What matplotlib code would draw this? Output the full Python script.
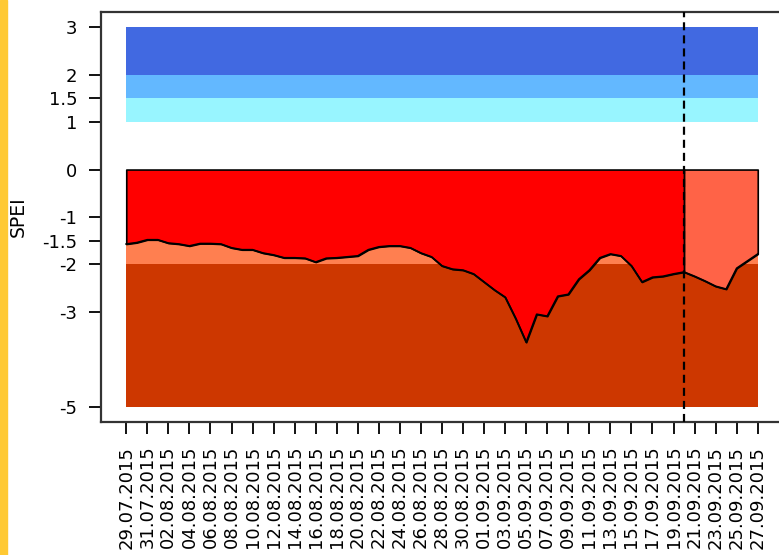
import numpy as np
import pandas as pd
import matplotlib
matplotlib.use("Agg")
import matplotlib.pyplot as plt
import matplotlib.dates as mdates
from matplotlib.patches import Rectangle

plt.rcParams['font.family'] = ['DejaVu Sans']
plt.rcParams['lines.scale_dashes'] = False

# ---- data ----
dates = pd.date_range("2015-07-29", "2015-09-27", freq="D")
spei = [-1.57, -1.54, -1.48, -1.48, -1.55, -1.57, -1.61, -1.56, -1.56, -1.57,
        -1.65, -1.69, -1.69, -1.76, -1.80, -1.86, -1.86, -1.87, -1.95, -1.87,
        -1.86, -1.84, -1.82, -1.69, -1.63, -1.61, -1.61, -1.65, -1.76, -1.84,
        -2.03, -2.10, -2.12, -2.20, -2.37, -2.54, -2.69, -3.14, -3.64, -3.05,
        -3.09, -2.67, -2.63, -2.31, -2.12, -1.86, -1.78, -1.82, -2.03, -2.37,
        -2.27, -2.25, -2.20, -2.16, -2.25, -2.35, -2.46, -2.52, -2.08, -1.93,
        -1.78]
forecast_start = pd.Timestamp("2015-09-20")
wet_bands = [(1.0, 1.5, "#98F5FF"), (1.5, 2.0, "#63B8FF"), (2.0, 3.0, "#4169E1")]
dry_bands = [(-5.0, -2.0, "#CD3700"), (-2.0, -1.5, "#FF7F50"), (-1.5, -1.0, "#FF7F50")]
ytick_vals = [3, 2, 1.5, 1, 0, -1, -1.5, -2, -3, -5]
ytick_labels = ["3", "2", "1.5", "1", "0", "-1", "-1.5", "-2", "-3", "-5"]

# ---- figure ----
W, H = 779, 555
fig = plt.figure(figsize=(W / 100, H / 100), dpi=100)
fig.patches.append(Rectangle((0, 0), 7 / W, 1, transform=fig.transFigure,
                             color="#FFC933", zorder=0))
ax = fig.add_axes([101 / W, (H - 422) / H, (783 - 101) / W, (422 - 12) / H])

x = mdates.date2num(dates.to_pydatetime())
y = np.array(spei)
xf = mdates.date2num(forecast_start.to_pydatetime())

for lo, hi, c in wet_bands:
    ax.fill_between(x, lo, hi, color=c, lw=0, zorder=1)
for lo, hi, c in dry_bands:
    ax.fill_between(x, lo, hi, color=c, lw=0, zorder=1)

obs = x <= xf
fc = x >= xf
ax.fill_between(x[obs], y[obs], 0, facecolor="#FF0000", edgecolor="black",
                lw=1.2, zorder=2)
ax.fill_between(x[fc], y[fc], 0, facecolor="#FF6347", edgecolor="black",
                lw=1.2, zorder=2)
ax.plot(x, y, color="black", lw=1.3, zorder=3)
ax.axvline(xf, color="black", lw=1.6, dashes=(5.8, 3.6), zorder=4)

ax.set_xlim(x[0] - 2.4, x[-1] + 2.4)
ax.set_ylim(-5.32, 3.32)

ax.set_yticks(ytick_vals)
ax.set_yticklabels(ytick_labels)
ax.set_xticks(x[::2])
ax.set_xticklabels([d.strftime("%d.%m.%Y") for d in dates[::2]], rotation=90)

ax.tick_params(axis="both", direction="out", length=8.6, width=1.4,
               labelsize=13, pad=8.5, color="#111111")
for s in ax.spines.values():
    s.set_linewidth(1.6)
    s.set_color("#333333")

ax.set_ylabel("SPEI", fontsize=13.5)
ax.yaxis.set_label_coords(-(101 - 28) / 682, 0.5)

fig.savefig("out.png", dpi=100)
